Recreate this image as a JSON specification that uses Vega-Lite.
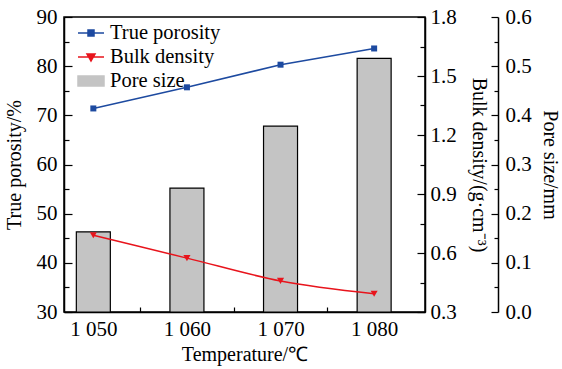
{
  "$schema": "https://vega.github.io/schema/vega-lite/v6.json",
  "width": 361,
  "height": 295,
  "autosize": "none",
  "padding": {"left": 64, "top": 17, "right": 137, "bottom": 57},
  "config": {
    "font": "Liberation Serif",
    "view": {"stroke": "black", "strokeWidth": 1.5},
    "axis": {
      "domainColor": "black", "domainWidth": 1.5,
      "tickColor": "black", "tickWidth": 1.2,
      "labelColor": "black", "titleColor": "black",
      "labelFont": "Liberation Serif", "titleFont": "Liberation Serif",
      "labelFontSize": 21, "titleFontSize": 20, "titleFontWeight": "normal",
      "grid": false, "labelOverlap": false, "labelFlush": false
    }
  },
  "data": {
    "values": [
      {"T": 1050, "porosity": 71.4, "density": 0.69, "pore": 0.163},
      {"T": 1060, "porosity": 75.7, "density": 0.574, "pore": 0.252},
      {"T": 1070, "porosity": 80.3, "density": 0.458, "pore": 0.378},
      {"T": 1080, "porosity": 83.6, "density": 0.393, "pore": 0.516}
    ]
  },
  "encoding": {
    "x": {
      "field": "T", "type": "quantitative",
      "scale": {"domain": [1047.4, 1084.9], "nice": false, "zero": false},
      "axis": {
        "title": "Temperature/℃",
        "values": [1050, 1055, 1060, 1065, 1070, 1075, 1080],
        "labelExpr": "datum.value % 10 == 0 ? '1 0' + substring(toString(datum.value), 2) : ''",
        "tickSize": {"condition": {"test": "datum.value % 10 == 0", "value": -8}, "value": -5},
        "labelPadding": 14,
        "titlePadding": 2
      }
    }
  },
  "layer": [
    {
      "mark": {"type": "bar", "size": 34, "stroke": "black", "strokeWidth": 1.2},
      "encoding": {
        "y": {
          "field": "pore", "type": "quantitative",
          "scale": {"domain": [0, 0.6], "nice": false},
          "axis": {
            "orient": "right", "offset": 73, "title": "Pore size/mm",
            "values": [0, 0.05, 0.1, 0.15, 0.2, 0.25, 0.3, 0.35, 0.4, 0.45, 0.5, 0.55, 0.6],
            "format": ".1f",
            "labelExpr": "round(datum.value * 100) % 10 == 0 ? datum.label : ''",
            "tickSize": {"condition": {"test": "round(datum.value * 100) % 10 == 0", "value": -7}, "value": -4},
            "labelPadding": 14,
            "titlePadding": 8
          }
        },
        "color": {
          "datum": "Pore size",
          "scale": {
            "domain": ["True porosity", "Bulk density", "Pore size"],
            "range": ["#1d4aa0", "#e8141c", "#c4c4c4"]
          },
          "legend": {
            "title": null,
            "orient": "none",
            "legendX": 16,
            "legendY": 5,
            "padding": 0,
            "labelFont": "Liberation Serif",
            "labelFontSize": 20.5,
            "labelColor": "black",
            "symbolSize": 400,
            "labelOffset": 8,
            "rowPadding": 2,
            "symbolStrokeWidth": 1.5,
            "symbolOpacity": 1,
            "encode": {
              "symbols": {
                "update": {
                  "shape": {"signal": "datum.value === 'True porosity' ? 'M-1.3,0H1.3M-0.3,-0.3H0.3V0.3H-0.3Z' : datum.value === 'Bulk density' ? 'M-1.3,0H1.3M-0.4,-0.3H0.4L0,0.4Z' : 'M-1.3,-0.5H1.3V0.5H-1.3Z'"},
                  "fill": {"signal": "datum.value === 'True porosity' ? '#1d4aa0' : datum.value === 'Bulk density' ? '#e8141c' : '#c4c4c4'"},
                  "stroke": {"signal": "datum.value === 'True porosity' ? '#1d4aa0' : datum.value === 'Bulk density' ? '#e8141c' : 'black'"},
                  "strokeWidth": {"value": 1.5},
                  "opacity": {"value": 1},
                  "fillOpacity": {"value": 1},
                  "strokeOpacity": {"value": 1}
                }
              }
            }
          }
        }
      }
    },
    {
      "mark": {"type": "line", "strokeWidth": 1.5, "point": {"shape": "square", "size": 36, "filled": true}},
      "encoding": {
        "y": {
          "field": "porosity", "type": "quantitative",
          "scale": {"domain": [30, 90], "nice": false, "zero": false},
          "axis": {
            "orient": "left", "title": "True porosity/%",
            "values": [30, 35, 40, 45, 50, 55, 60, 65, 70, 75, 80, 85, 90],
            "labelExpr": "datum.value % 10 == 0 ? datum.label : ''",
            "tickSize": {"condition": {"test": "datum.value % 10 == 0", "value": -8}, "value": -5},
            "labelPadding": 15,
            "titlePadding": 12
          }
        },
        "color": {
          "datum": "True porosity",
          "legend": {
            "title": null,
            "orient": "none",
            "legendX": 16,
            "legendY": 5,
            "padding": 0,
            "labelFont": "Liberation Serif",
            "labelFontSize": 20.5,
            "labelColor": "black",
            "symbolSize": 400,
            "labelOffset": 8,
            "rowPadding": 2,
            "symbolStrokeWidth": 1.5,
            "symbolOpacity": 1,
            "encode": {
              "symbols": {
                "update": {
                  "shape": {"signal": "datum.value === 'True porosity' ? 'M-1.3,0H1.3M-0.3,-0.3H0.3V0.3H-0.3Z' : datum.value === 'Bulk density' ? 'M-1.3,0H1.3M-0.4,-0.3H0.4L0,0.4Z' : 'M-1.3,-0.5H1.3V0.5H-1.3Z'"},
                  "fill": {"signal": "datum.value === 'True porosity' ? '#1d4aa0' : datum.value === 'Bulk density' ? '#e8141c' : '#c4c4c4'"},
                  "stroke": {"signal": "datum.value === 'True porosity' ? '#1d4aa0' : datum.value === 'Bulk density' ? '#e8141c' : 'black'"},
                  "strokeWidth": {"value": 1.5},
                  "opacity": {"value": 1},
                  "fillOpacity": {"value": 1},
                  "strokeOpacity": {"value": 1}
                }
              }
            }
          }
        }
      }
    },
    {
      "mark": {"type": "line", "strokeWidth": 1.5, "interpolate": "monotone", "point": {"shape": "triangle-down", "size": 50, "filled": true}},
      "encoding": {
        "y": {
          "field": "density", "type": "quantitative",
          "scale": {"domain": [0.3, 1.8], "nice": false, "zero": false},
          "axis": {
            "orient": "right", "title": "Bulk density/(g·cm⁻³)",
            "values": [0.3, 0.45, 0.6, 0.75, 0.9, 1.05, 1.2, 1.35, 1.5, 1.65, 1.8],
            "format": ".1f",
            "labelExpr": "round(datum.value * 100) % 30 == 0 ? datum.label : ''",
            "tickSize": {"condition": {"test": "round(datum.value * 100) % 30 == 0", "value": -8}, "value": -5},
            "labelPadding": 13,
            "titlePadding": 12
          }
        },
        "color": {
          "datum": "Bulk density",
          "legend": {
            "title": null,
            "orient": "none",
            "legendX": 16,
            "legendY": 5,
            "padding": 0,
            "labelFont": "Liberation Serif",
            "labelFontSize": 20.5,
            "labelColor": "black",
            "symbolSize": 400,
            "labelOffset": 8,
            "rowPadding": 2,
            "symbolStrokeWidth": 1.5,
            "symbolOpacity": 1,
            "encode": {
              "symbols": {
                "update": {
                  "shape": {"signal": "datum.value === 'True porosity' ? 'M-1.3,0H1.3M-0.3,-0.3H0.3V0.3H-0.3Z' : datum.value === 'Bulk density' ? 'M-1.3,0H1.3M-0.4,-0.3H0.4L0,0.4Z' : 'M-1.3,-0.5H1.3V0.5H-1.3Z'"},
                  "fill": {"signal": "datum.value === 'True porosity' ? '#1d4aa0' : datum.value === 'Bulk density' ? '#e8141c' : '#c4c4c4'"},
                  "stroke": {"signal": "datum.value === 'True porosity' ? '#1d4aa0' : datum.value === 'Bulk density' ? '#e8141c' : 'black'"},
                  "strokeWidth": {"value": 1.5},
                  "opacity": {"value": 1},
                  "fillOpacity": {"value": 1},
                  "strokeOpacity": {"value": 1}
                }
              }
            }
          }
        }
      }
    }
  ],
  "resolve": {"scale": {"y": "independent"}}
}
